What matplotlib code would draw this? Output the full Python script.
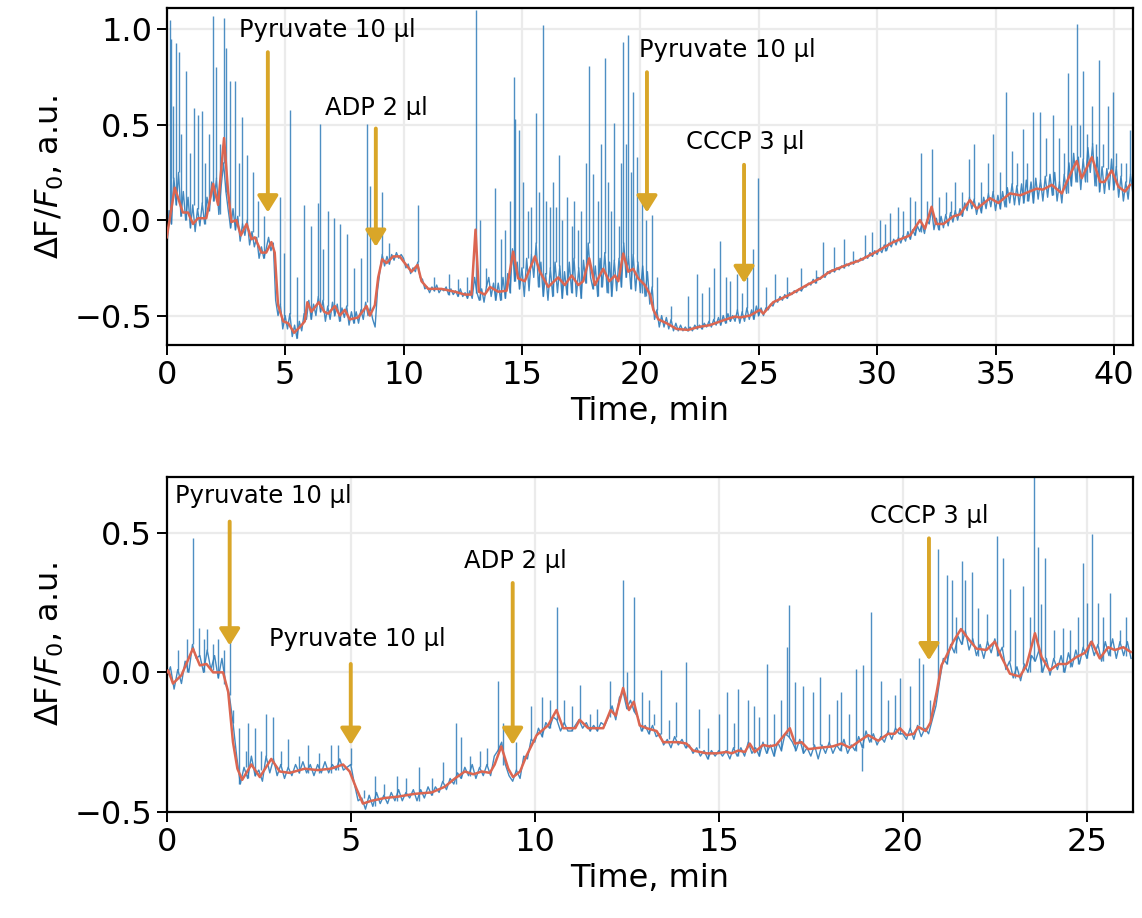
import matplotlib
matplotlib.use("Agg")
import matplotlib.pyplot as plt
import numpy as np

BLUE = "#2f7cb9"
RED = "#dc6651"
GOLD = "#d9a628"

# ---------------- top panel data ----------------
# raw trace, one value every 0.1 min
top_raw = [
    -0.16, 0.05, -0.02, 0.22, 0.08, 0.25, 0.02, 0.15, 0.0, 0.12,
    -0.04, 0.08, -0.06, 0.06, -0.03, 0.09, -0.02, 0.12, 0.05, 0.2,
    0.1, 0.22, 0.03, 0.18, 0.3, 0.15, 0.05, -0.04, 0.06, -0.05,
    0.02, -0.11, -0.02, -0.08, 0.0, -0.13, -0.06, -0.14, -0.09, -0.2,
    -0.14, -0.2, -0.15, -0.09, -0.16, -0.12, -0.42, -0.5, -0.44, -0.57,
    -0.5, -0.57, -0.49, -0.61, -0.55, -0.62, -0.53, -0.58, -0.49, -0.52,
    -0.42, -0.52, -0.44, -0.5, -0.4, -0.48, -0.42, -0.53, -0.45, -0.52,
    -0.43, -0.5, -0.44, -0.53, -0.46, -0.51, -0.45, -0.55, -0.48, -0.54,
    -0.48, -0.54, -0.47, -0.52, -0.43, -0.5, -0.46, -0.52, -0.56, -0.37,
    -0.27, -0.18, -0.24, -0.19, -0.23, -0.18, -0.21, -0.17, -0.2, -0.18,
    -0.2, -0.25, -0.23, -0.28, -0.25, -0.27, -0.22, -0.3, -0.31, -0.36,
    -0.35, -0.38, -0.35, -0.37, -0.34, -0.38, -0.36, -0.37, -0.35, -0.39,
    -0.36, -0.39, -0.37, -0.4, -0.36, -0.4, -0.38, -0.41, -0.37, -0.41,
    -0.3, -0.38, -0.42, -0.36, -0.43, -0.35, -0.3, -0.4, -0.33, -0.42,
    -0.33, -0.42, -0.3, -0.41, -0.28, -0.38, -0.15, -0.32, -0.22, -0.36,
    -0.25, -0.4, -0.2, -0.37, -0.18, -0.3, -0.12, -0.35, -0.22, -0.4,
    -0.28, -0.42, -0.25, -0.4, -0.22, -0.38, -0.24, -0.41, -0.27, -0.39,
    -0.22, -0.38, -0.2, -0.4, -0.25, -0.41, -0.21, -0.33, -0.12, -0.3,
    -0.36, -0.24, -0.4, -0.2, -0.35, -0.17, -0.38, -0.22, -0.4, -0.21,
    -0.37, -0.2, -0.35, -0.12, -0.3, -0.19, -0.36, -0.18, -0.37, -0.22,
    -0.38, -0.24, -0.4, -0.27, -0.44, -0.35, -0.52, -0.47, -0.56, -0.5,
    -0.56, -0.51, -0.57, -0.52, -0.58, -0.54, -0.58, -0.55, -0.58, -0.56,
    -0.58, -0.56, -0.58, -0.55, -0.57, -0.55, -0.57, -0.54, -0.56, -0.53,
    -0.56, -0.52, -0.55, -0.51, -0.55, -0.5, -0.54, -0.49, -0.53, -0.5,
    -0.53, -0.47, -0.54, -0.48, -0.53, -0.46, -0.52, -0.47, -0.52, -0.45,
    -0.5, -0.46, -0.5, -0.46, -0.47, -0.44, -0.45, -0.42, -0.43, -0.4,
    -0.42, -0.39, -0.41, -0.38, -0.39, -0.37, -0.38, -0.36, -0.37, -0.35,
    -0.35, -0.33, -0.34, -0.31, -0.33, -0.3, -0.31, -0.29, -0.3, -0.27,
    -0.28, -0.26, -0.27, -0.25, -0.26, -0.24, -0.25, -0.23, -0.24, -0.22,
    -0.23, -0.21, -0.22, -0.2, -0.21, -0.19, -0.2, -0.17, -0.19, -0.16,
    -0.18, -0.15, -0.17, -0.13, -0.16, -0.12, -0.14, -0.1, -0.13, -0.09,
    -0.12, -0.08, -0.11, -0.06, -0.1, -0.05, -0.08, -0.03, -0.06, -0.02,
    -0.07, 0.0, -0.02, 0.06, -0.05, 0.01, -0.05, 0.02, -0.04, 0.03,
    -0.03, 0.04, -0.01, 0.05, 0.0, 0.06, 0.02, 0.09, 0.05, 0.12,
    0.06, 0.11, 0.03, 0.09, 0.04, 0.12, 0.06, 0.14, 0.07, 0.15,
    0.05, 0.13, 0.06, 0.15, 0.07, 0.17, 0.09, 0.19, 0.08, 0.18,
    0.08, 0.19, 0.09, 0.21, 0.1, 0.2, 0.09, 0.22, 0.11, 0.21,
    0.1, 0.23, 0.12, 0.24, 0.13, 0.25, 0.1, 0.2, 0.09, 0.24,
    0.14, 0.3, 0.18, 0.35, 0.2, 0.33, 0.16, 0.32, 0.2, 0.38,
    0.25, 0.4, 0.18, 0.33, 0.15, 0.28, 0.14, 0.27, 0.16, 0.32,
    0.16, 0.28, 0.12, 0.23, 0.1, 0.2, 0.11, 0.24, 0.14,
]
# single-sample spikes: (time, value)
top_spike_t = [
    0.13, 0.2, 0.27, 0.41, 0.51, 0.62, 0.83, 0.97, 1.15, 1.32, 1.49, 1.62, 1.78,
    1.96, 2.1, 2.24, 2.42, 2.52, 2.66, 2.87, 3.05, 3.16, 3.41, 3.65, 3.85, 4.1,
    4.77, 4.95, 5.2, 5.5, 5.8, 6.1, 6.37, 6.46, 6.6, 6.8, 7.06, 7.3, 7.6, 7.9,
    8.2, 8.44, 8.58, 9.07, 9.4, 10.62, 11.3, 11.9, 12.3, 12.7, 13.08, 13.22,
    13.5, 13.86, 14.1, 14.3, 14.5, 14.66, 14.7, 14.88, 15.05, 15.25, 15.4, 15.58,
    15.7, 15.87, 16.0, 16.2, 16.33, 16.45, 16.57, 16.7, 16.9, 17.1, 17.2, 17.35,
    17.5, 17.7, 17.84, 18.0, 18.2, 18.35, 18.5, 18.62, 18.75, 18.88, 19.1, 19.2,
    19.28, 19.38, 19.46, 19.6, 19.7, 19.86, 20.05, 20.22, 20.48, 20.7, 21.3,
    22.0, 22.4, 22.6, 22.9, 23.1, 23.36, 23.6, 23.8, 24.1, 24.3, 24.5, 24.77,
    24.98, 25.3, 25.7, 26.2, 26.8, 27.4, 27.73, 28.2, 28.6, 29.0, 29.5, 29.77,
    30.12, 30.35, 30.54, 30.88, 31.1, 31.37, 31.6, 31.84, 32.1, 32.33, 32.6,
    32.9, 33.1, 33.3, 33.6, 33.86, 34.09, 34.4, 34.7, 34.91, 35.2, 35.45, 35.7,
    35.9, 36.18, 36.35, 36.57, 36.88, 37.15, 37.42, 37.66, 37.9, 38.05, 38.2,
    38.43, 38.55, 38.68, 38.85, 39.08, 39.25, 39.39, 39.55, 39.74, 39.95, 40.1,
    40.3, 40.5, 40.66,
]
top_spike_v = [
    1.05, 0.95, 0.6, 0.93, 0.88, 0.45, 0.78, 0.35, 0.585, 0.55, 0.57, 0.3, 0.45,
    1.07, 0.8, 0.4, 1.06, 0.9, 0.73, 0.73, 0.3, 0.54, 0.34, 0.25, 0.1, 0.02,
    0.12, -0.17, 0.575, -0.3, 0.08, -0.03, 0.09, 0.505, -0.15, 0.05, 0.01, -0.02,
    -0.07, -0.25, -0.2, 0.505, 0.18, 0.15, -0.12, 0.08, -0.3, -0.28, -0.31, -0.3,
    1.1, 0.0, -0.25, 0.17, -0.1, -0.05, 0.1, 0.75, 0.53, 0.47, 0.2, 0.05, 0.07,
    0.56, 0.15, 1.02, 0.1, 0.07, 0.2, 0.07, 0.34, 0.0, 0.12, -0.03, 0.1, -0.05,
    0.05, 0.3, 0.81, 0.24, 0.1, 0.4, 0.85, 0.2, 0.05, 0.51, -0.03, 0.3, 0.935,
    0.4, 0.97, 0.25, 0.67, 0.33, 0.1, 0.0, 0.025, -0.3, -0.45, -0.4, -0.28,
    -0.38, -0.35, -0.25, -0.11, -0.3, -0.32, -0.28, -0.38, -0.3, -0.15, 0.22,
    -0.35, -0.28, -0.3, -0.25, -0.26, -0.115, -0.14, -0.1, -0.16, -0.08, -0.06,
    0.0, -0.02, 0.035, 0.07, 0.05, 0.12, 0.1, 0.35, 0.1, 0.375, 0.12, 0.15, 0.1,
    0.2, 0.15, 0.32, 0.4, 0.2, 0.3, 0.45, 0.25, 0.67, 0.36, 0.3, 0.48, 0.3,
    0.567, 0.567, 0.43, 0.55, 0.43, 0.35, 0.77, 0.5, 1.03, 0.5, 0.78, 0.45, 0.6,
    0.4, 0.84, 0.4, 0.6, 0.67, 0.35, 0.3, 0.3, 0.47,
]
# smoothed curve
top_smooth_t = [
    0.0, 0.34, 0.68, 0.9, 1.11, 1.32, 1.67, 1.96, 2.17, 2.42, 2.59, 2.73, 2.94,
    3.13, 3.37, 3.58, 3.72, 4.0, 4.2, 4.42, 4.56, 4.7, 4.92, 5.13, 5.38, 5.62,
    5.83, 5.94, 6.11, 6.42, 6.65, 6.82, 7.1, 7.31, 7.52, 7.73, 8.08, 8.44, 8.58,
    8.79, 8.93, 9.1, 9.28, 9.56, 9.84, 10.05, 10.34, 10.59, 10.76, 11.04, 11.6,
    12.17, 12.59, 12.87, 13.04, 13.18, 13.43, 13.65, 14.0, 14.35, 14.63, 14.84,
    15.12, 15.55, 15.76, 16.11, 16.53, 16.81, 17.1, 17.38, 17.59, 17.84, 18.08,
    18.43, 18.69, 18.93, 19.07, 19.28, 19.49, 19.7, 19.91, 20.19, 20.41, 20.55,
    20.76, 21.11, 21.53, 22.02, 22.45, 22.94, 23.5, 24.0, 24.21, 24.63, 25.05,
    25.19, 25.61, 26.32, 27.03, 27.59, 28.0, 28.71, 29.28, 29.98, 30.68, 31.39,
    31.81, 32.02, 32.3, 32.49, 32.8, 33.22, 33.5, 33.92, 34.21, 34.77, 35.12,
    35.61, 36.04, 36.74, 37.0, 37.38, 37.8, 38.08, 38.43, 38.64, 39.07, 39.42,
    39.6, 39.91, 40.19, 40.47, 40.68,
]
top_smooth_v = [
    -0.09, 0.17, 0.04, 0.04, -0.02, 0.01, 0.01, 0.19, 0.08, 0.43, 0.15, -0.01,
    0.0, -0.08, -0.02, -0.1, -0.09, -0.17, -0.17, -0.115, -0.17, -0.445, -0.53,
    -0.54, -0.59, -0.56, -0.53, -0.43, -0.48, -0.43, -0.48, -0.49, -0.45, -0.5,
    -0.47, -0.52, -0.51, -0.45, -0.5, -0.445, -0.3, -0.205, -0.225, -0.19, -0.19,
    -0.225, -0.27, -0.235, -0.32, -0.36, -0.36, -0.375, -0.39, -0.39, -0.05,
    -0.375, -0.39, -0.35, -0.375, -0.37, -0.165, -0.305, -0.32, -0.19, -0.27,
    -0.35, -0.3, -0.34, -0.29, -0.34, -0.32, -0.2, -0.34, -0.255, -0.32, -0.29,
    -0.32, -0.175, -0.27, -0.255, -0.305, -0.34, -0.39, -0.47, -0.52, -0.54,
    -0.57, -0.575, -0.56, -0.55, -0.525, -0.505, -0.51, -0.5, -0.47, -0.49,
    -0.43, -0.39, -0.34, -0.305, -0.27, -0.235, -0.21, -0.165, -0.115, -0.08,
    0.0, -0.045, 0.07, -0.02, -0.02, 0.02, 0.03, 0.105, 0.06, 0.115, 0.09, 0.14,
    0.13, 0.165, 0.16, 0.185, 0.14, 0.22, 0.31, 0.22, 0.33, 0.2, 0.2, 0.26,
    0.175, 0.15, 0.185,
]
top_labels = ["Pyruvate 10 µl", "ADP 2 µl", "Pyruvate 10 µl", "CCCP 3 µl"]
top_label_xy = [(6.8, 0.995), (8.87, 0.59), (23.66, 0.89), (24.42, 0.41)]
top_arrow_x = [4.27, 8.83, 20.28, 24.38]
top_arrow_from = [0.88, 0.48, 0.775, 0.29]
top_arrow_to = [0.04, -0.14, 0.04, -0.33]

# ---------------- bottom panel data ----------------
bot_raw = [
    -0.02, 0.02, -0.06, 0.01, -0.04, 0.04, 0.0, 0.1, 0.05, 0.06,
    0.0, 0.08, 0.01, 0.06, -0.02, 0.05, -0.04, -0.08, -0.18, -0.3,
    -0.4, -0.34, -0.38, -0.3, -0.37, -0.35, -0.39, -0.3, -0.36, -0.31,
    -0.37, -0.33, -0.38, -0.34, -0.37, -0.33, -0.36, -0.32, -0.36, -0.33,
    -0.37, -0.33, -0.36, -0.32, -0.36, -0.33, -0.35, -0.31, -0.35, -0.34,
    -0.33, -0.4, -0.46, -0.45, -0.49, -0.44, -0.48, -0.43, -0.47, -0.44,
    -0.47, -0.43, -0.46, -0.42, -0.46, -0.43, -0.45, -0.42, -0.46, -0.42,
    -0.45, -0.41, -0.44, -0.41, -0.43, -0.39, -0.42, -0.38, -0.4, -0.36,
    -0.38, -0.34, -0.37, -0.33, -0.38, -0.34, -0.37, -0.33, -0.37, -0.3,
    -0.28, -0.25, -0.33, -0.37, -0.39, -0.35, -0.38, -0.3, -0.31, -0.24,
    -0.25, -0.2, -0.23, -0.18, -0.2, -0.16, -0.17, -0.21, -0.18, -0.21,
    -0.21, -0.19, -0.17, -0.2, -0.18, -0.21, -0.19, -0.21, -0.18, -0.19,
    -0.16, -0.12, -0.17, -0.09, -0.07, -0.13, -0.1, -0.14, -0.16, -0.21,
    -0.19, -0.22, -0.19, -0.23, -0.22, -0.26, -0.24, -0.27, -0.23, -0.26,
    -0.24, -0.27, -0.26, -0.29, -0.27, -0.3, -0.28, -0.31, -0.28, -0.3,
    -0.28, -0.3, -0.28, -0.31, -0.27, -0.3, -0.27, -0.3, -0.25, -0.29,
    -0.27, -0.3, -0.25, -0.29, -0.26, -0.3, -0.25, -0.28, -0.22, -0.23,
    -0.25, -0.28, -0.24, -0.29, -0.27, -0.3, -0.26, -0.31, -0.26, -0.29,
    -0.25, -0.29, -0.26, -0.28, -0.24, -0.29, -0.26, -0.28, -0.23, -0.27,
    -0.21, -0.25, -0.22, -0.26, -0.23, -0.25, -0.21, -0.24, -0.2, -0.22,
    -0.22, -0.24, -0.2, -0.24, -0.19, -0.23, -0.2, -0.22, -0.17, -0.12,
    -0.03, 0.05, 0.03, 0.1, 0.07, 0.13, 0.1, 0.15, 0.08, 0.12,
    0.06, 0.1, 0.05, 0.11, 0.07, 0.12, 0.06, 0.09, 0.01, 0.04,
    -0.02, 0.02, -0.03, 0.03, 0.0, 0.06, 0.04, 0.08, 0.0, 0.05,
    -0.01, 0.05, 0.01, 0.06, 0.0, 0.07, 0.02, 0.08, 0.03, 0.09,
    0.05, 0.11, 0.06, 0.1, 0.04, 0.11, 0.06, 0.12, 0.05, 0.11,
    0.06, 0.11, 0.05,
]
bot_spike_t = [
    0.3, 0.55, 0.71, 0.87, 1.0, 1.1, 1.25, 1.4, 1.55, 1.71, 1.8, 1.95, 2.15,
    2.21, 2.4, 2.55, 2.71, 2.9, 3.1, 3.3, 3.6, 3.85, 4.15, 4.45, 4.65, 5.0,
    5.35, 5.65, 5.9, 6.25, 6.5, 6.85, 7.2, 7.5, 7.85, 8.0, 8.25, 8.5, 8.7, 9.0,
    9.15, 9.5, 9.9, 10.2, 10.4, 10.6, 10.8, 11.0, 11.22, 11.5, 11.7, 12.05,
    12.4, 12.5, 12.69, 12.9, 13.1, 13.25, 13.44, 13.65, 13.85, 14.12, 14.45,
    14.7, 15.0, 15.21, 15.4, 15.53, 15.78, 15.95, 16.1, 16.3, 16.5, 16.7, 16.84,
    16.91, 17.07, 17.3, 17.55, 17.76, 18.0, 18.2, 18.33, 18.55, 18.74, 18.88,
    18.92, 19.13, 19.4, 19.6, 19.8, 19.92, 20.2, 20.44, 20.55, 20.75, 20.96,
    21.2, 21.33, 21.45, 21.6, 21.68, 21.87, 22.05, 22.3, 22.55, 22.73, 22.9,
    23.05, 23.27, 23.45, 23.57, 23.66, 23.75, 23.86, 24.1, 24.35, 24.55, 24.75,
    24.9, 25.0, 25.13, 25.3, 25.45, 25.62, 25.9, 26.05,
]
bot_spike_v = [
    0.08, 0.12, 0.48, 0.16, 0.12, 0.155, 0.1, 0.12, 0.08, 0.12, -0.135, -0.2,
    -0.28, -0.18, -0.2, -0.28, -0.15, -0.16, -0.28, -0.24, -0.3, -0.26, -0.29,
    -0.26, -0.26, -0.27, -0.42, -0.37, -0.4, -0.37, -0.38, -0.34, -0.38, -0.32,
    -0.18, -0.23, -0.3, -0.28, -0.27, -0.03, -0.18, -0.25, -0.12, -0.09, -0.1,
    0.235, -0.1, -0.12, -0.045, -0.15, -0.13, -0.03, 0.33, 0.0, 0.27, -0.07,
    -0.1, -0.15, 0.007, -0.17, -0.105, 0.037, -0.13, -0.2, -0.15, -0.07, -0.18,
    -0.06, -0.1, -0.12, -0.16, 0.03, -0.15, -0.1, 0.09, 0.24, -0.035, -0.05,
    -0.07, -0.017, -0.15, -0.1, -0.07, -0.15, 0.013, -0.355, 0.025, 0.215,
    -0.03, -0.1, -0.08, -0.02, -0.05, 0.05, 0.03, -0.1, 0.44, 0.35, 0.33, 0.2,
    0.4, 0.33, 0.36, 0.23, 0.21, 0.49, 0.41, 0.3, 0.15, 0.31, 0.2, 0.7, 0.45,
    0.245, 0.41, 0.15, 0.16, 0.15, 0.2, 0.39, 0.25, 0.495, 0.25, 0.2, 0.285,
    0.15, 0.2,
]
bot_smooth_t = [
    0.0, 0.04, 0.17, 0.4, 0.71, 0.9, 1.08, 1.26, 1.53, 1.67, 1.8, 1.92, 2.05,
    2.3, 2.53, 2.84, 3.07, 3.34, 3.75, 4.1, 4.46, 4.79, 4.97, 5.15, 5.33, 5.56,
    5.92, 6.29, 6.74, 7.2, 7.55, 7.83, 8.1, 8.33, 8.56, 8.78, 8.91, 9.09, 9.28,
    9.41, 9.6, 9.77, 10.05, 10.36, 10.59, 10.77, 11.1, 11.22, 11.45, 11.86,
    12.06, 12.2, 12.4, 12.56, 12.69, 12.85, 13.04, 13.31, 13.49, 13.9, 14.12,
    14.3, 14.67, 14.94, 15.21, 15.35, 15.53, 15.71, 15.84, 15.98, 16.2, 16.38,
    16.56, 16.93, 17.07, 17.25, 17.43, 17.74, 18.1, 18.33, 18.56, 18.83, 19.06,
    19.33, 19.6, 19.78, 19.92, 20.1, 20.3, 20.42, 20.62, 20.75, 20.92, 21.05,
    21.17, 21.37, 21.58, 21.78, 22.0, 22.27, 22.5, 22.68, 22.91, 23.18, 23.36,
    23.59, 23.77, 23.99, 24.22, 24.45, 24.72, 24.95, 25.13, 25.35, 25.58, 25.76,
    25.99, 26.19,
]
bot_smooth_v = [
    0.0, 0.007, -0.04, -0.01, 0.085, 0.025, 0.03, 0.0, 0.0, -0.07, -0.25,
    -0.345, -0.385, -0.33, -0.375, -0.31, -0.355, -0.36, -0.345, -0.35, -0.345,
    -0.33, -0.355, -0.415, -0.47, -0.46, -0.45, -0.445, -0.435, -0.43, -0.41,
    -0.38, -0.355, -0.365, -0.355, -0.36, -0.33, -0.265, -0.345, -0.375, -0.355,
    -0.3, -0.225, -0.19, -0.135, -0.2, -0.2, -0.17, -0.2, -0.2, -0.135, -0.155,
    -0.056, -0.135, -0.105, -0.19, -0.2, -0.21, -0.25, -0.25, -0.255, -0.28,
    -0.29, -0.29, -0.285, -0.29, -0.28, -0.285, -0.255, -0.285, -0.26, -0.265,
    -0.26, -0.2, -0.255, -0.25, -0.275, -0.27, -0.265, -0.255, -0.27, -0.245,
    -0.225, -0.245, -0.22, -0.22, -0.2, -0.225, -0.22, -0.195, -0.21, -0.18,
    -0.07, 0.025, 0.055, 0.11, 0.155, 0.12, 0.085, 0.08, 0.11, 0.055, -0.005,
    -0.015, 0.025, 0.14, 0.055, 0.007, 0.03, 0.03, 0.055, 0.07, 0.11, 0.05,
    0.09, 0.08, 0.09, 0.073,
]
bot_labels = ["Pyruvate 10 µl", "Pyruvate 10 µl", "ADP 2 µl", "CCCP 3 µl"]
bot_label_xy = [(2.62, 0.63), (5.18, 0.118), (9.48, 0.40), (20.73, 0.56)]
bot_arrow_x = [1.71, 5.0, 9.4, 20.71]
bot_arrow_from = [0.54, 0.03, 0.32, 0.48]
bot_arrow_to = [0.096, -0.26, -0.26, 0.043]


def draw_panel(ax, raw, spike_t, spike_v, sm_t, sm_v, labels, label_xy,
               arrow_x, arrow_from, arrow_to, xlim, ylim, xticks, yticks, step=0.1):
    raw = np.asarray(raw)
    t = np.arange(len(raw)) * step
    ax.plot(t, raw, color=BLUE, lw=1.0, alpha=0.9, zorder=2)
    # spikes: vertical strokes rising from the nearest raw sample
    idx = np.clip(np.round(np.asarray(spike_t) / step).astype(int), 0, len(raw) - 1)
    ax.vlines(spike_t, raw[idx], spike_v, color=BLUE, lw=1.0, alpha=0.85, zorder=2)
    ax.plot(sm_t, sm_v, color=RED, lw=1.8, zorder=3)

    for lab, (lx, ly), x, y0, y1 in zip(labels, label_xy, arrow_x, arrow_from, arrow_to):
        ax.text(lx, ly, lab, ha="center", va="center", fontsize=17.5, zorder=5)
        ax.annotate("", xy=(x, y1), xytext=(x, y0),
                    arrowprops=dict(arrowstyle="-|>,head_length=0.45,head_width=0.28",
                                    color=GOLD, lw=2.8, mutation_scale=22,
                                    shrinkA=0, shrinkB=0),
                    zorder=4)

    ax.set_xlim(*xlim)
    ax.set_ylim(*ylim)
    ax.set_xticks(xticks)
    ax.set_yticks(yticks)
    ax.grid(True, color="#ebebeb", lw=1.6)
    ax.set_axisbelow(True)
    for sp in ax.spines.values():
        sp.set_color("black")
        sp.set_linewidth(1.6)
    ax.tick_params(axis="both", labelsize=23, length=7, width=1.4, direction="out")
    ax.set_xlabel("Time, min", fontsize=23, labelpad=4)
    ax.set_ylabel(r"ΔF/$F_0$, a.u.", fontsize=23, labelpad=6)


fig = plt.figure(figsize=(11.42, 9.18), dpi=100)
ax1 = fig.add_axes([0.146, 0.624, 0.846, 0.367])
ax2 = fig.add_axes([0.146, 0.1155, 0.846, 0.365])

draw_panel(ax1, top_raw, top_spike_t, top_spike_v, top_smooth_t, top_smooth_v,
           top_labels, top_label_xy, top_arrow_x, top_arrow_from, top_arrow_to,
           (0, 40.8), (-0.655, 1.11), [0, 5, 10, 15, 20, 25, 30, 35, 40],
           [-0.5, 0.0, 0.5, 1.0])
draw_panel(ax2, bot_raw, bot_spike_t, bot_spike_v, bot_smooth_t, bot_smooth_v,
           bot_labels, bot_label_xy, bot_arrow_x, bot_arrow_from, bot_arrow_to,
           (0, 26.25), (-0.5, 0.7), [0, 5, 10, 15, 20, 25], [-0.5, 0.0, 0.5])

fig.savefig("out.png", dpi=100)
